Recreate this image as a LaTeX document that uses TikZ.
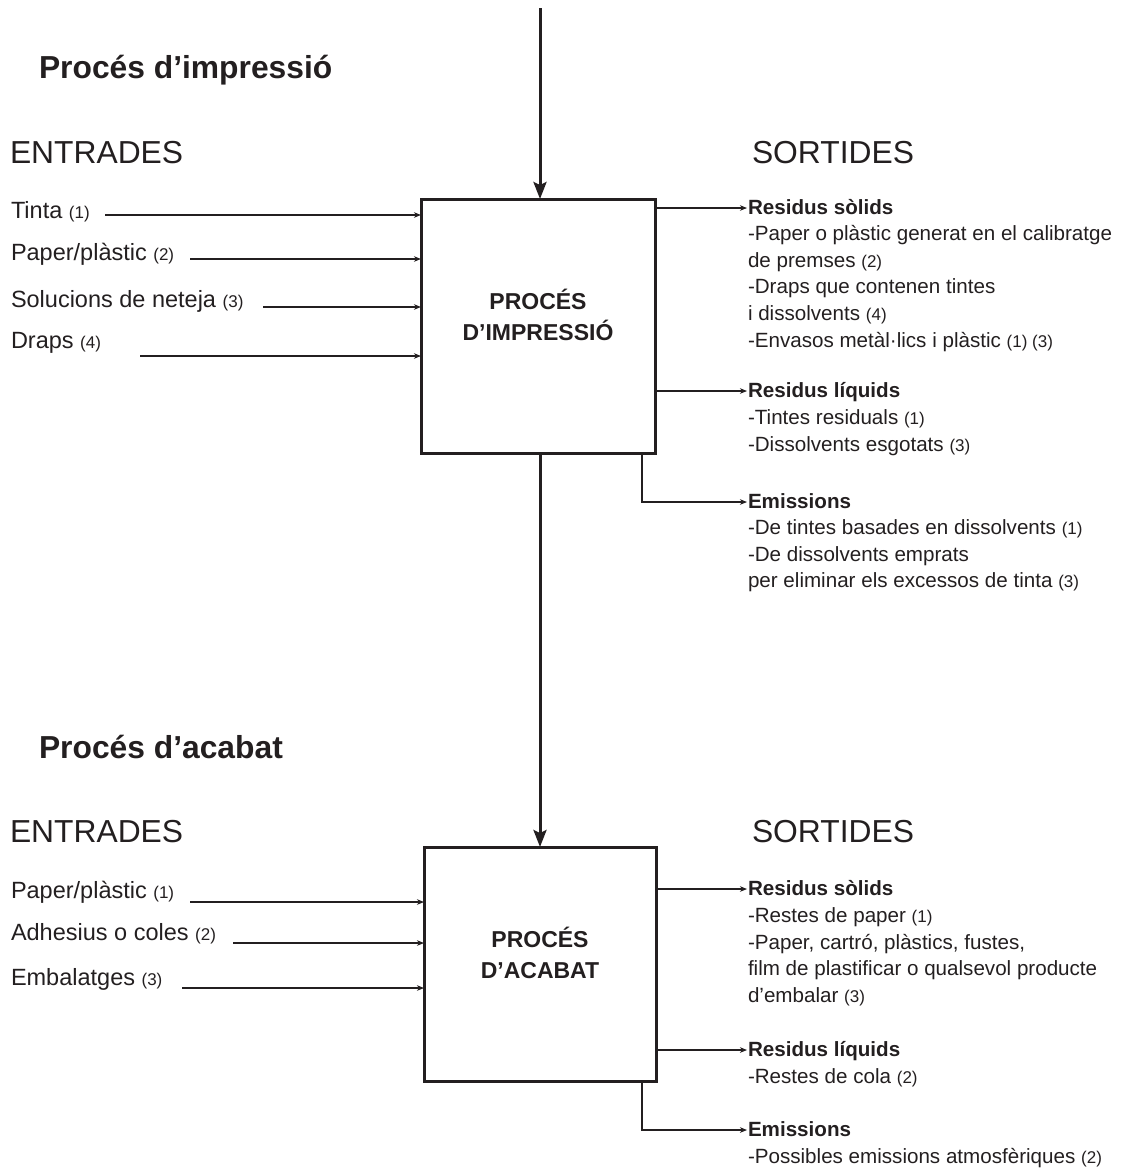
\documentclass[tikz,border=0pt]{standalone}
\usepackage{fontspec}
\setmainfont{Liberation Sans}
\usetikzlibrary{arrows.meta}
\definecolor{ink}{RGB}{35,31,32}
\newcommand\numtag[1]{{\fontsize{17}{17}\selectfont #1}}
\tikzset{
  every node/.style={inner sep=0pt, outer sep=0pt, text=ink},
  procbox/.style={draw=ink, line width=3pt, fill=white},
  boxlabel/.style={anchor=base, font=\fontsize{23}{23}\selectfont\bfseries},
  heading/.style={anchor=base west, font=\fontsize{31.8}{31.8}\selectfont\bfseries},
  colhead/.style={anchor=base west, font=\fontsize{31.8}{31.8}\selectfont},
  intxt/.style={anchor=base west, font=\fontsize{23.5}{23.5}\selectfont},
  outtxt/.style={anchor=base west, font=\fontsize{20.6}{20.6}\selectfont},
  outhead/.style={anchor=base west, font=\fontsize{20.6}{20.6}\selectfont\bfseries},
  thinarrow/.style={draw=ink, line width=1.1pt, -{Stealth[length=7pt,width=5.5pt,inset=2pt]}},
  bigarrow/.style={draw=ink, line width=3pt, -{Stealth[length=17pt,width=13pt,inset=3pt]}},
}
\begin{document}
\begin{tikzpicture}[x=1pt,y=-1pt]
\useasboundingbox (0,0) rectangle (1137,1171);

% ---------- Upper process ----------
\node[heading] (h1) at (39,78) {Procés d’impressió};
\node[colhead] (ent1) at (10,163) {ENTRADES};
\node[colhead] (sor1) at (752,163) {SORTIDES};

\node[procbox, minimum width=234pt, minimum height=254pt] (b1) at (538,326) {};
\node[boxlabel] (b1a) at (538,309) {PROCÉS};
\node[boxlabel] (b1b) at (538,340) {D’IMPRESSIÓ};

\coordinate (topin) at (540,8);
\draw[bigarrow] (topin) -- (topin |- b1.north);

% inputs
\node[intxt] (i1) at (11,218) {Tinta \numtag{(1)}};
\node[intxt] (i2) at (11,260) {Paper/plàstic \numtag{(2)}};
\node[intxt] (i3) at (11,307) {Solucions de neteja \numtag{(3)}};
\node[intxt] (i4) at (11,348) {Draps \numtag{(4)}};
\coordinate (ia1) at (105,215);
\coordinate (ia2) at (190,259);
\coordinate (ia3) at (263,307);
\coordinate (ia4) at (140,356);
\foreach \c in {ia1,ia2,ia3,ia4}{\draw[thinarrow] (\c) -- (\c -| b1.west);}

% outputs
\coordinate (oa1) at (747,208);
\coordinate (oa2) at (747,391);
\coordinate (oa3) at (747,502);
\coordinate (ka3) at (642,502);
\draw[thinarrow] (b1.east |- oa1) -- (oa1);
\draw[thinarrow] (b1.east |- oa2) -- (oa2);
\draw[thinarrow] (b1.south -| ka3) |- (oa3);

\node[outhead] (s1) at (748,214) {Residus sòlids};
\node[outtxt] (s1a) at (748,240.5) {-Paper o plàstic generat en el calibratge};
\node[outtxt] (s1b) at (748,267) {de premses \numtag{(2)}};
\node[outtxt] (s1c) at (748,293.5) {-Draps que contenen tintes};
\node[outtxt] (s1d) at (748,320) {i dissolvents \numtag{(4)}};
\node[outtxt] (s1e) at (748,347) {-Envasos metàl·lics i plàstic \numtag{(1) (3)}};

\node[outhead] (l1) at (748,397.5) {Residus líquids};
\node[outtxt] (l1a) at (748,424) {-Tintes residuals \numtag{(1)}};
\node[outtxt] (l1b) at (748,451) {-Dissolvents esgotats \numtag{(3)}};

\node[outhead] (e1) at (748,508) {Emissions};
\node[outtxt] (e1a) at (748,534.5) {-De tintes basades en dissolvents \numtag{(1)}};
\node[outtxt] (e1b) at (748,561) {-De dissolvents emprats};
\node[outtxt] (e1c) at (748,587.5) {per eliminar els excessos de tinta \numtag{(3)}};

% ---------- Lower process ----------
\node[heading] (h2) at (39,758) {Procés d’acabat};
\node[colhead] (ent2) at (10,842) {ENTRADES};
\node[colhead] (sor2) at (752,842) {SORTIDES};

\node[procbox, minimum width=232pt, minimum height=234pt] (b2) at (540,964) {};
\node[boxlabel] (b2a) at (540,947) {PROCÉS};
\node[boxlabel] (b2b) at (540,978) {D’ACABAT};

\draw[bigarrow] (b1.south -| b2.north) -- (b2.north);

\node[intxt] (j1) at (11,898) {Paper/plàstic \numtag{(1)}};
\node[intxt] (j2) at (11,940) {Adhesius o coles \numtag{(2)}};
\node[intxt] (j3) at (11,985) {Embalatges \numtag{(3)}};
\coordinate (ja1) at (190,902);
\coordinate (ja2) at (233,943);
\coordinate (ja3) at (182,988);
\foreach \c in {ja1,ja2,ja3}{\draw[thinarrow] (\c) -- (\c -| b2.west);}

\coordinate (pa1) at (747,889);
\coordinate (pa2) at (747,1050);
\coordinate (pa3) at (747,1130);
\coordinate (kp3) at (642,1130);
\draw[thinarrow] (b2.east |- pa1) -- (pa1);
\draw[thinarrow] (b2.east |- pa2) -- (pa2);
\draw[thinarrow] (b2.south -| kp3) |- (pa3);

\node[outhead] (s2) at (748,895) {Residus sòlids};
\node[outtxt] (s2a) at (748,922) {-Restes de paper \numtag{(1)}};
\node[outtxt] (s2b) at (748,949) {-Paper, cartró, plàstics, fustes,};
\node[outtxt] (s2c) at (748,975.5) {film de plastificar o qualsevol producte};
\node[outtxt] (s2d) at (748,1002) {d’embalar \numtag{(3)}};

\node[outhead] (l2) at (748,1056) {Residus líquids};
\node[outtxt] (l2a) at (748,1083) {-Restes de cola \numtag{(2)}};

\node[outhead] (e2) at (748,1136) {Emissions};
\node[outtxt] (e2a) at (748,1163) {-Possibles emissions atmosfèriques \numtag{(2)}};
\end{tikzpicture}
\end{document}
